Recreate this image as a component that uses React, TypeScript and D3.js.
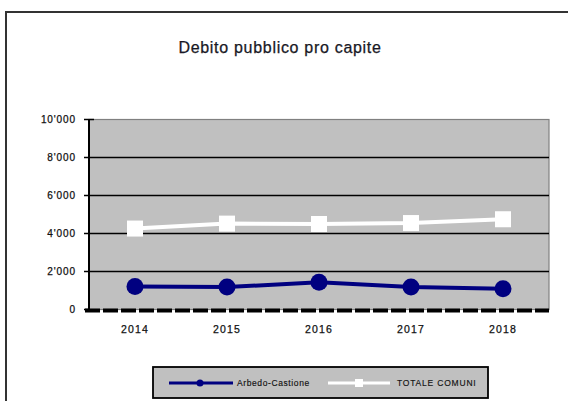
import * as d3 from 'd3'

const years = ['2014', '2015', '2016', '2017', '2018']
const arbedo = [1210, 1180, 1440, 1180, 1090]
const totale = [4260, 4520, 4500, 4550, 4750]
const yTicks = [0, 2000, 4000, 6000, 8000, 10000]
const yTickLabels = ['0', "2'000", "4'000", "6'000", "8'000", "10'000"]

const W = 568
const H = 401
const left = 89
const right = 549
const top = 119.5
const bottom = 309.5
const font = 'Arial, "Liberation Sans", sans-serif'

export default function App() {
  const x = d3.scaleBand<string>().domain(years).range([left, right]).padding(0)
  const y = d3.scaleLinear().domain([0, 10000]).range([bottom, top])
  const cx = (d: string) => (x(d) ?? 0) + x.bandwidth() / 2

  const lineGen = d3.line<number>()
    .x((_, i) => cx(years[i]))
    .y(d => y(d))

  // blurry scanned look: slightly heavier text
  const txt = { fontFamily: font, fill: '#111', stroke: '#111', strokeWidth: 0.25 }

  return (
    <div style={{ position: 'fixed', left: 0, top: 0 }}>
      <svg width={W} height={H} style={{ display: 'block', background: '#fff' }}>
        {/* outer frame */}
        <rect x={6} y={12} width={620} height={420} fill="#fff" stroke="#333" strokeWidth={2} />

        <text x={280} y={53} textAnchor="middle" fontSize={16} letterSpacing={0.7} {...txt} fill="#1a1a2a">
          Debito pubblico pro capite
        </text>

        {/* plot area */}
        <rect x={left} y={top} width={right - left} height={bottom - top} fill="#c0c0c0" stroke="#808080" strokeWidth={1.2} />
        {yTicks.filter(t => t > 0 && t < 10000).map(t => (
          <line key={t} x1={left} x2={right} y1={y(t)} y2={y(t)} stroke="#000" strokeWidth={1.5} />
        ))}

        {/* y axis */}
        <line x1={left} x2={left} y1={top} y2={bottom} stroke="#000" strokeWidth={2} />
        {yTicks.map((t, i) => (
          <g key={t}>
            <line x1={84} x2={t === 10000 ? 94 : left} y1={y(t)} y2={y(t)} stroke="#000" strokeWidth={1.5} />
            <text x={76} y={y(t) + 3.5} textAnchor="end" fontSize={10} letterSpacing={0.9} {...txt}>
              {yTickLabels[i]}
            </text>
          </g>
        ))}

        {/* x axis */}
        <line x1={left - 4} x2={right} y1={bottom + 1} y2={bottom + 1} stroke="#000" strokeWidth={4} strokeDasharray="15 3" />
        {years.map(d => (
          <text key={d} x={cx(d)} y={333} textAnchor="middle" fontSize={10.5} letterSpacing={1.2} {...txt}>
            {d}
          </text>
        ))}

        {/* series */}
        <path d={lineGen(totale) ?? ''} fill="none" stroke="#fff" strokeWidth={4} />
        {totale.map((v, i) => (
          <rect key={i} x={cx(years[i]) - 8} y={y(v) - 8} width={16} height={16} fill="#fff" />
        ))}
        <path d={lineGen(arbedo) ?? ''} fill="none" stroke="#000080" strokeWidth={4} />
        {arbedo.map((v, i) => (
          <circle key={i} cx={cx(years[i])} cy={y(v)} r={8.5} fill="#000080" />
        ))}

        {/* legend */}
        <rect x={153} y={367} width={335} height={31} fill="#c0c0c0" stroke="#000" strokeWidth={1.8} />
        <line x1={169} x2={233} y1={383} y2={383} stroke="#000080" strokeWidth={3} />
        <circle cx={200} cy={383} r={3.5} fill="#000080" />
        <text x={237} y={386} fontSize={8.5} letterSpacing={0.6} {...txt} strokeWidth={0.15}>Arbedo-Castione</text>
        <line x1={328} x2={390} y1={383} y2={383} stroke="#fff" strokeWidth={3} />
        <rect x={355} y={379} width={8} height={8} fill="#fff" />
        <text x={397} y={386} fontSize={8.5} letterSpacing={0.8} {...txt} strokeWidth={0.15}>TOTALE COMUNI</text>
      </svg>
    </div>
  )
}
